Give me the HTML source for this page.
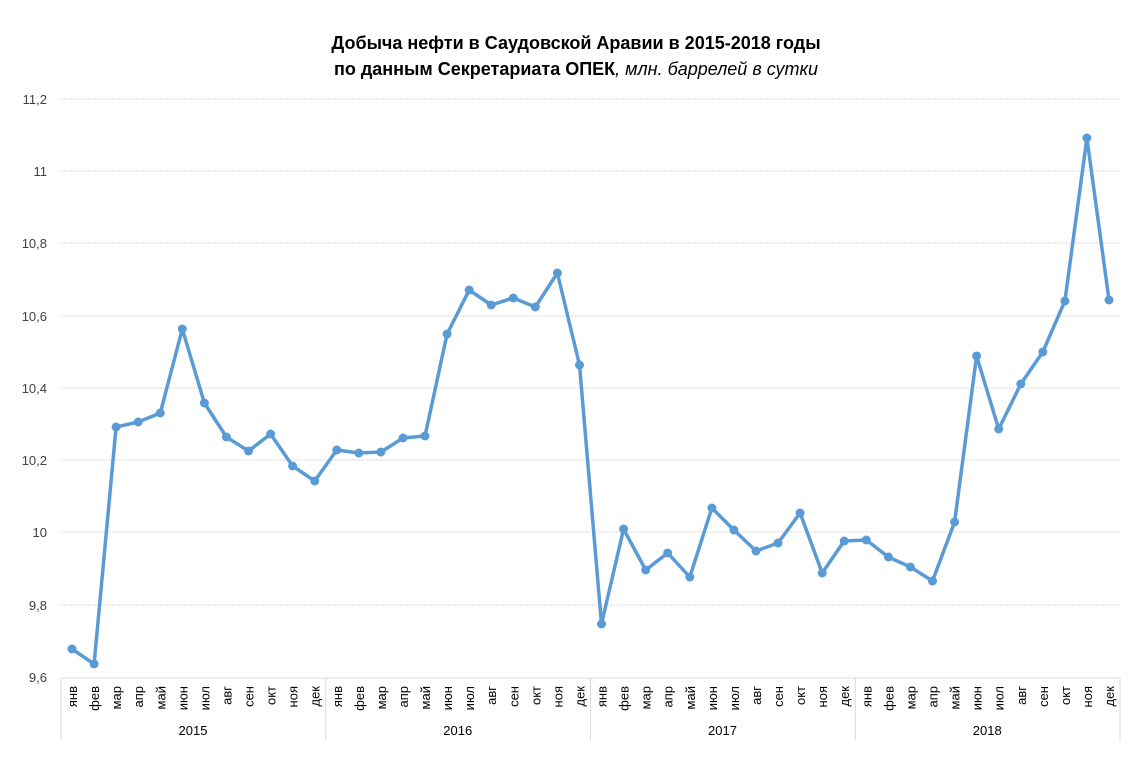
<!DOCTYPE html>
<html><head><meta charset="utf-8"><style>
body{margin:0;background:#fff;width:1143px;height:769px;overflow:hidden}
svg{display:block;font-family:"Liberation Sans","DejaVu Sans",sans-serif}
</style></head><body>
<svg id="c" width="1143" height="769" xmlns="http://www.w3.org/2000/svg">
<text x="576" y="49" text-anchor="middle" font-size="18" font-weight="bold" fill="#000">Добыча нефти в Саудовской Аравии в 2015-2018 годы</text>
<text x="576" y="75" text-anchor="middle" font-size="18" fill="#000"><tspan font-weight="bold">по данным Секретариата ОПЕК</tspan><tspan font-style="italic">, млн. баррелей в сутки</tspan></text>
<g id="g"></g>
</svg>
<script>
var g=document.getElementById('g'),s='';
var ys=[99,171,243,316,388,460,532,605,677],lb=['11,2','11','10,8','10,6','10,4','10,2','10','9,8','9,6'];
for(var i=0;i<9;i++){ if(i<8)s+='<line x1="61" x2="1120" y1="'+ys[i]+'" y2="'+ys[i]+'" stroke="#d9d9d9" stroke-width="1" stroke-dasharray="2,1"/>';
s+='<text x="47" y="'+(ys[i]+5)+'" text-anchor="end" font-size="13" fill="#404040">'+lb[i]+'</text>';}
s+='<line x1="61" x2="1120" y1="678" y2="678" stroke="#d9d9d9"/>';
var m=['янв','фев','мар','апр','май','июн','июл','авг','сен','окт','ноя','дек'];
for(var yr=0;yr<4;yr++){var x0=61+yr*264.75;
s+='<line x1="'+x0+'" x2="'+x0+'" y1="678" y2="740" stroke="#d9d9d9"/>';
s+='<text x="'+(x0+132)+'" y="735" text-anchor="middle" font-size="13" fill="#000">'+(2015+yr)+'</text>';
for(var k=0;k<12;k++){var x=72+(yr*12+k)*22.064;
s+='<text transform="translate('+(x+5)+',686) rotate(-90)" text-anchor="end" font-size="13" fill="#000">'+m[k]+'</text>';}}
s+='<line x1="1120" x2="1120" y1="678" y2="740" stroke="#d9d9d9"/>';
var py=[649,664,427,422,413,329,403,437,451,434,466,481,450,453,452,438,436,334,290,305,298,307,273,365,624,529,570,553,577,508,530,551,543,513,573,541,540,557,567,581,522,356,429,384,352,301,138,300];
var pts=py.map(function(y,i){return (72+i*22.064).toFixed(1)+','+y;});
s+='<polyline points="'+pts.join(' ')+'" fill="none" stroke="#5b9bd5" stroke-width="3.5" stroke-linejoin="round"/>';
pts.forEach(function(p){var a=p.split(',');s+='<circle cx="'+a[0]+'" cy="'+a[1]+'" r="4.5" fill="#5b9bd5"/>';});
g.innerHTML=s;
</script>
</body></html>
